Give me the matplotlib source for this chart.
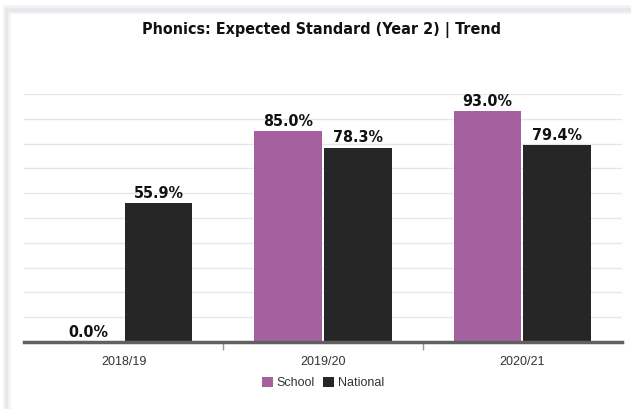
import numpy as np
import matplotlib.pyplot as plt
from matplotlib.patches import Rectangle

years = ["2018/19", "2019/20", "2020/21"]
school = [0.0, 85.0, 93.0]
national = [55.9, 78.3, 79.4]

school_color = "#a5619f"
national_color = "#262626"

W, H = 631, 409
fig = plt.figure(figsize=(W / 100, H / 100), dpi=100)
fig.patch.set_facecolor("white")

# soft shadow around the card's left/top edge
shades = ["#f7f7f9", "#f1f1f4", "#ebebef", "#e6e6ea", "#e9e9ed", "#efeff2", "#f5f5f7"]
for i, c in enumerate(shades):
    x0 = (3 + i) / W
    y1 = 1 - (5 + i * 1.3) / H
    fig.patches.append(Rectangle((x0, 0), 1, y1, transform=fig.transFigure,
                                 facecolor=c, edgecolor="none", zorder=-20 + i))
fig.patches.append(Rectangle((11 / W, 0), 1, 1 - 14 / H, transform=fig.transFigure,
                             facecolor="white", edgecolor="none", zorder=-5))

ax = fig.add_axes([24 / W, 1 - 342 / H, 598 / W, 248 / H])
ax.patch.set_alpha(0)
x = np.arange(len(years))
w = 0.34
off = 0.175
ax.bar(x - off, school, width=w, color=school_color, label="School", zorder=2)
ax.bar(x + off, national, width=w, color=national_color, label="National", zorder=2)

lab_font = dict(family="DejaVu Sans", fontstretch="condensed", fontweight="bold",
                fontsize=11.5, color="#111111")
for xi, v in zip(x - off, school):
    ax.text(xi, v + 1.0, f"{v:.1f}%", ha="center", va="bottom", **lab_font)
for xi, v in zip(x + off, national):
    ax.text(xi, v + 1.0, f"{v:.1f}%", ha="center", va="bottom", **lab_font)

ax.set_xlim(-0.5, 2.5)
ax.set_ylim(0, 100)
ax.set_yticks(np.arange(10, 101, 10))
ax.yaxis.grid(True, color="#e6e6e6", linewidth=1)
ax.set_axisbelow(True)
ax.tick_params(axis="y", length=0, labelleft=False)
for s in ["top", "right", "left"]:
    ax.spines[s].set_visible(False)
ax.spines["bottom"].set_color("#606060")
ax.spines["bottom"].set_linewidth(2.5)
ax.set_xticks(x)
ax.set_xticklabels(years, fontsize=9, color="#333333", family="Liberation Sans")
ax.set_xticks([0.5, 1.5], minor=True)
ax.tick_params(axis="x", which="major", length=0, pad=10)
ax.tick_params(axis="x", which="minor", length=6, color="#999999", width=1)

fig.text(321.5 / W, 1 - 30 / H, "Phonics: Expected Standard (Year 2) | Trend", ha="center", va="center",
         family="DejaVu Sans", fontstretch="condensed", fontweight="bold", fontsize=11.5, color="#111111")

leg = fig.legend(loc="center", bbox_to_anchor=(0.512, 1 - 383 / H), ncol=2, frameon=False,
                 handlelength=0.85, handleheight=0.85, handletextpad=0.3, columnspacing=0.7,
                 prop={"family": "Liberation Sans", "size": 9})
for t in leg.get_texts():
    t.set_color("#333333")

fig.savefig("out.png", dpi=100)
